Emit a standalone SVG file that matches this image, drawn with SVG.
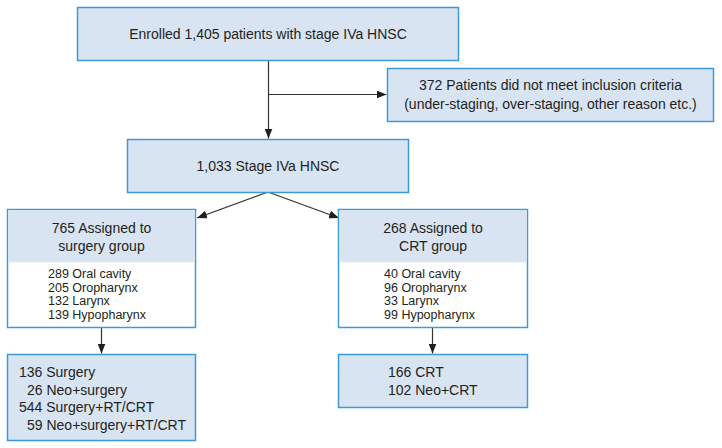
<svg xmlns="http://www.w3.org/2000/svg" width="722" height="448" viewBox="0 0 722 448">
<style>
.box{fill:#d9e4f3;stroke:#3d9ad8;stroke-width:1.5}
.wbox{fill:#ffffff;stroke:#3d9ad8;stroke-width:1.5}
.t{font-family:"Liberation Sans",Arial,sans-serif;font-size:14px;fill:#231f20}
.s{font-family:"Liberation Sans",Arial,sans-serif;font-size:12.5px;fill:#231f20}
.c{text-anchor:middle}
.ln{stroke:#333333;stroke-width:1.2;fill:none;marker-end:url(#ah)}
</style>
<defs>
<marker id="ah" viewBox="0 0 10 8" refX="10" refY="4" markerWidth="10" markerHeight="8" markerUnits="userSpaceOnUse" orient="auto">
<path d="M0,0 L10,4 L0,8 Z" fill="#231f20"/>
</marker>
</defs>
<rect width="722" height="448" fill="#ffffff"/>
<g id="connectors">
<line class="ln" x1="268.5" y1="60" x2="268.5" y2="138.5"/>
<line class="ln" x1="268.5" y1="94.5" x2="386.5" y2="94.5"/>
<line class="ln" x1="268" y1="192" x2="197" y2="218"/>
<line class="ln" x1="268" y1="192" x2="339" y2="218"/>
<line class="ln" x1="101.5" y1="328" x2="101.5" y2="353.5"/>
<line class="ln" x1="432.5" y1="328" x2="432.5" y2="353.5"/>
</g>
<g id="enrolled">
<rect class="box" x="77.5" y="7.5" width="381" height="53"/>
<text class="t c" x="268" y="39">Enrolled 1,405 patients with stage IVa HNSC</text>
</g>
<g id="excluded">
<rect class="box" x="387.5" y="68.5" width="326" height="53"/>
<text class="t c" x="550.5" y="90">372 Patients did not meet inclusion criteria</text>
<text class="t c" x="550.5" y="109">(under-staging, over-staging, other reason etc.)</text>
</g>
<g id="stage">
<rect class="box" x="127.5" y="139.5" width="281" height="53"/>
<text class="t c" x="268" y="171">1,033 Stage IVa HNSC</text>
</g>
<g id="surgery-group">
<rect class="wbox" x="7.5" y="209.5" width="188" height="118"/>
<rect x="8.25" y="210.25" width="186.5" height="52" fill="#d9e4f3"/>
<text class="t c" x="101.5" y="233">765 Assigned to</text>
<text class="t c" x="101.5" y="251">surgery group</text>
<text class="s" x="48" y="278">289 Oral cavity</text>
<text class="s" x="48" y="291.5">205 Oropharynx</text>
<text class="s" x="48" y="305">132 Larynx</text>
<text class="s" x="48" y="318.5">139 Hypopharynx</text>
</g>
<g id="crt-group">
<rect class="wbox" x="338.5" y="209.5" width="189" height="118"/>
<rect x="339.25" y="210.25" width="187.5" height="52" fill="#d9e4f3"/>
<text class="t c" x="433" y="233">268 Assigned to</text>
<text class="t c" x="433" y="251">CRT group</text>
<text class="s" x="384" y="278">40 Oral cavity</text>
<text class="s" x="384" y="291.5">96 Oropharynx</text>
<text class="s" x="384" y="305">33 Larynx</text>
<text class="s" x="384" y="318.5">99 Hypopharynx</text>
</g>
<g id="surgery-outcome">
<rect class="box" x="7.5" y="354.5" width="188" height="86"/>
<text class="t" x="19" y="377">136 Surgery</text>
<text class="t" x="27" y="394.5">26 Neo+surgery</text>
<text class="t" x="19" y="412">544 Surgery+RT/CRT</text>
<text class="t" x="27" y="429.5">59 Neo+surgery+RT/CRT</text>
</g>
<g id="crt-outcome">
<rect class="box" x="338.5" y="354.5" width="189" height="53"/>
<text class="t" x="388" y="377">166 CRT</text>
<text class="t" x="388" y="395">102 Neo+CRT</text>
</g>
</svg>
